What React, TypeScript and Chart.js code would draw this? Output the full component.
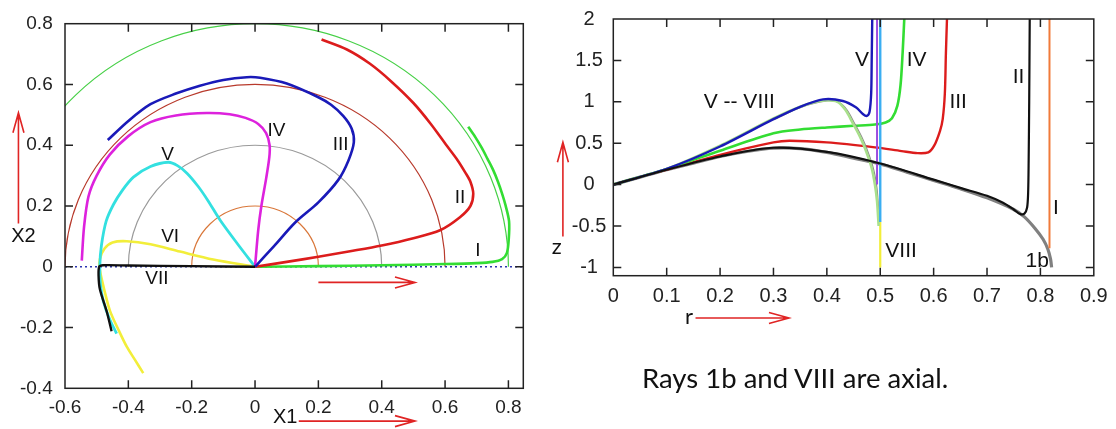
import React, { useEffect, useRef } from "react";
import { Chart, registerables } from "chart.js";

Chart.register(...registerables);

type Pt = [number, number];

// ---------- Left panel: ray paths in the (X1, X2) plane ----------
const X1_TICKS = [-0.6, -0.4, -0.2, 0, 0.2, 0.4, 0.6, 0.8];
const X2_TICKS = [-0.4, -0.2, 0, 0.2, 0.4, 0.6, 0.8];
const X1_MIN = -0.6;
const X1_MAX = 0.847;
const X2_MIN = -0.4;
const X2_MAX = 0.8;

const RAY_I: Pt[] = [
  [0, 0], [0.2, 0.002], [0.4, 0.005], [0.6, 0.009], [0.7, 0.012], [0.75, 0.016],
  [0.78, 0.025], [0.795, 0.045], [0.801, 0.09], [0.802, 0.15], [0.791, 0.202],
  [0.78, 0.241], [0.767, 0.28], [0.752, 0.318], [0.734, 0.355], [0.716, 0.391],
  [0.696, 0.426], [0.673, 0.461],
];
const RAY_II: Pt[] = [
  [0, 0], [0.1, 0.016], [0.2, 0.033], [0.3, 0.051], [0.4, 0.07], [0.5, 0.094],
  [0.584, 0.12], [0.647, 0.163], [0.68, 0.2], [0.689, 0.24], [0.68, 0.28],
  [0.664, 0.31], [0.64, 0.35], [0.605, 0.399], [0.555, 0.47], [0.5, 0.539],
  [0.43, 0.61], [0.363, 0.668], [0.29, 0.715], [0.21, 0.748],
];
const RAY_III: Pt[] = [
  [0, 0], [0.06, 0.068], [0.126, 0.145], [0.2, 0.212], [0.263, 0.286],
  [0.295, 0.35], [0.312, 0.41], [0.305, 0.455], [0.279, 0.496], [0.24, 0.533],
  [0.2, 0.558], [0.1, 0.603], [0.016, 0.622], [-0.026, 0.624], [-0.1, 0.615],
  [-0.174, 0.596], [-0.25, 0.57], [-0.33, 0.535], [-0.4, 0.48], [-0.465, 0.417],
];
const RAY_IV: Pt[] = [
  [0, 0], [0.01, 0.12], [0.02, 0.2], [0.035, 0.29], [0.045, 0.36], [0.046, 0.4],
  [0.035, 0.44], [0.01, 0.47], [-0.03, 0.49], [-0.08, 0.502], [-0.153, 0.506],
  [-0.25, 0.498], [-0.33, 0.476], [-0.4, 0.43], [-0.458, 0.37], [-0.5, 0.3],
  [-0.526, 0.231], [-0.54, 0.13], [-0.547, 0.02],
];
const RAY_V: Pt[] = [
  [0, 0], [-0.055, 0.075], [-0.11, 0.153], [-0.15, 0.22], [-0.18, 0.265],
  [-0.215, 0.308], [-0.245, 0.333], [-0.274, 0.344], [-0.33, 0.33],
  [-0.384, 0.295], [-0.42, 0.25], [-0.447, 0.205], [-0.47, 0.15], [-0.485, 0.07],
  [-0.49, 0.005], [-0.488, -0.06], [-0.479, -0.113], [-0.46, -0.17], [-0.437, -0.22],
];
const RAY_VI: Pt[] = [
  [0, 0], [-0.132, 0.024], [-0.237, 0.05], [-0.33, 0.074], [-0.405, 0.084],
  [-0.45, 0.08], [-0.475, 0.06], [-0.49, 0.025], [-0.49, -0.01], [-0.475, -0.08],
  [-0.458, -0.145], [-0.43, -0.21], [-0.405, -0.263], [-0.38, -0.305], [-0.353, -0.35],
];
const RAY_VII: Pt[] = [
  [0, 0], [-0.2, 0.002], [-0.4, 0.004], [-0.48, 0.005], [-0.492, 0],
  [-0.494, -0.03], [-0.49, -0.073], [-0.468, -0.148], [-0.453, -0.212],
];
const AXIS_LINE: Pt[] = [[-0.6, 0], [0.847, 0]];
const GUIDE_RADII = [0.2, 0.4, 0.6, 0.8];

// ---------- Right panel: z(r) for the same rays ----------
const R_TICKS = [0, 0.1, 0.2, 0.3, 0.4, 0.5, 0.6, 0.7, 0.8, 0.9];
const Z_TICKS = [-1, -0.5, 0, 0.5, 1, 1.5, 2];
const R_MIN = 0;
const R_MAX = 0.9;
const Z_MIN = -1.1;
const Z_MAX = 2;

const Z_1B: Pt[] = [
  [0, 0], [0.05, 0.09], [0.1, 0.18], [0.15, 0.26], [0.2, 0.34], [0.25, 0.4],
  [0.3, 0.44], [0.35, 0.435], [0.4, 0.39], [0.45, 0.32], [0.5, 0.25], [0.55, 0.15],
  [0.6, 0.05], [0.65, -0.05], [0.7, -0.16], [0.75, -0.3], [0.77, -0.39],
  [0.79, -0.53], [0.805, -0.66], [0.814, -0.78], [0.819, -0.9], [0.821, -1.0],
];
const Z_II: Pt[] = [
  [0, 0], [0.1, 0.18], [0.2, 0.34], [0.3, 0.445], [0.4, 0.395], [0.5, 0.255],
  [0.6, 0.06], [0.65, -0.04], [0.7, -0.135], [0.73, -0.22], [0.75, -0.3],
  [0.762, -0.355], [0.77, -0.35], [0.775, -0.28], [0.777, -0.1], [0.778, 0.3],
  [0.779, 1.0], [0.78, 2.0],
];
const Z_III: Pt[] = [
  [0, 0], [0.1, 0.18], [0.2, 0.36], [0.3, 0.51], [0.33, 0.53], [0.4, 0.51],
  [0.49, 0.45], [0.54, 0.405], [0.57, 0.38], [0.59, 0.39], [0.601, 0.47],
  [0.612, 0.65], [0.617, 0.79], [0.621, 1.1], [0.623, 1.59], [0.625, 2.0],
];
const Z_IV: Pt[] = [
  [0, 0], [0.1, 0.19], [0.2, 0.41], [0.3, 0.62], [0.35, 0.665], [0.4, 0.69],
  [0.45, 0.71], [0.49, 0.725], [0.51, 0.75], [0.522, 0.8], [0.532, 0.95],
  [0.538, 1.2], [0.542, 1.6], [0.545, 2.0],
];
const Z_V: Pt[] = [
  [0, 0], [0.1, 0.19], [0.2, 0.46], [0.3, 0.79], [0.35, 0.94], [0.393, 1.03],
  [0.43, 1.01], [0.455, 0.93], [0.468, 0.85], [0.475, 0.83], [0.48, 0.88],
  [0.483, 1.1], [0.484, 1.5], [0.485, 2.0],
];
const Z_VI: Pt[] = [
  [0, 0], [0.1, 0.19], [0.2, 0.47], [0.3, 0.8], [0.35, 0.94], [0.38, 1.0],
  [0.4, 1.02], [0.42, 1.0], [0.435, 0.9], [0.448, 0.75], [0.462, 0.58],
  [0.472, 0.43], [0.484, 0.2], [0.49, 0.0], [0.494, -0.2], [0.497, -0.5],
];
const Z_VII: Pt[] = [
  [0.3, 0.78], [0.35, 0.93], [0.4, 1.01], [0.423, 0.99], [0.438, 0.9],
  [0.451, 0.75], [0.465, 0.58], [0.475, 0.43], [0.487, 0.2], [0.493, 0.0],
  [0.496, -0.2], [0.498, -0.45],
];
const Z_VERT_A: Pt[] = [[0.494, 2.0], [0.494, 0.0]];
const Z_VERT_B: Pt[] = [[0.5, 2.0], [0.5, -0.45]];
const Z_VIII: Pt[] = [[0.5, -0.45], [0.5, -1.0]];
const Z_I: Pt[] = [[0.817, 2.0], [0.817, -0.77]];

// ---------- drawing helpers ----------
const TICK_FONT = "'Liberation Sans', Arial, Helvetica, sans-serif";
const ARROW_RED = "#e02424";

type Label = { text: string; x: number; y: number; size: number; font?: string };
type Arrow = { x1: number; y1: number; x2: number; y2: number };
type Arc = { r: number; color: string };

function line(points: Pt[], color: string, width: number, extra: Record<string, unknown> = {}) {
  return {
    data: points.map(([x, y]) => ({ x, y })),
    showLine: true,
    borderColor: color,
    backgroundColor: color,
    borderWidth: width,
    pointRadius: 0,
    pointHoverRadius: 0,
    tension: 0.3,
    fill: false,
    ...extra,
  };
}

function decorations(
  xTicks: number[],
  yTicks: number[],
  arcs: Arc[],
  labels: Label[],
  arrows: Arrow[]
) {
  return {
    id: "decorations",
    beforeDatasetsDraw(chart: any) {
      const { ctx, chartArea: a, scales } = chart;
      const sx = scales.x;
      const sy = scales.y;
      ctx.save();
      ctx.beginPath();
      ctx.rect(a.left, a.top, a.right - a.left, a.bottom - a.top);
      ctx.clip();
      const cx = sx.getPixelForValue(0);
      const cy = sy.getPixelForValue(0);
      for (const arc of arcs) {
        const rx = sx.getPixelForValue(arc.r) - cx;
        const ry = cy - sy.getPixelForValue(arc.r);
        ctx.beginPath();
        ctx.ellipse(cx, cy, rx, ry, 0, Math.PI, 2 * Math.PI);
        ctx.strokeStyle = arc.color;
        ctx.lineWidth = 1.2;
        ctx.stroke();
      }
      ctx.restore();
    },
    afterDraw(chart: any) {
      const { ctx, chartArea: a, scales } = chart;
      const sx = scales.x;
      const sy = scales.y;
      ctx.save();
      // frame
      ctx.strokeStyle = "#222";
      ctx.lineWidth = 1.5;
      ctx.strokeRect(a.left, a.top, a.right - a.left, a.bottom - a.top);
      // inward ticks on all four sides
      const tl = 8;
      ctx.beginPath();
      for (const v of xTicks) {
        const px = sx.getPixelForValue(v);
        if (px <= a.left + 1 || px >= a.right - 1) continue;
        ctx.moveTo(px, a.bottom);
        ctx.lineTo(px, a.bottom - tl);
        ctx.moveTo(px, a.top);
        ctx.lineTo(px, a.top + tl);
      }
      for (const v of yTicks) {
        const py = sy.getPixelForValue(v);
        if (py <= a.top + 1 || py >= a.bottom - 1) continue;
        ctx.moveTo(a.left, py);
        ctx.lineTo(a.left + tl, py);
        ctx.moveTo(a.right, py);
        ctx.lineTo(a.right - tl, py);
      }
      ctx.stroke();
      // red direction arrows
      ctx.strokeStyle = ARROW_RED;
      ctx.lineWidth = 1.6;
      for (const ar of arrows) {
        const x1 = sx.getPixelForValue(ar.x1);
        const y1 = sy.getPixelForValue(ar.y1);
        const x2 = sx.getPixelForValue(ar.x2);
        const y2 = sy.getPixelForValue(ar.y2);
        const ang = Math.atan2(y2 - y1, x2 - x1);
        const hl = 20;
        const hw = 5.5;
        const bx = x2 - hl * Math.cos(ang);
        const by = y2 - hl * Math.sin(ang);
        const nx = -Math.sin(ang) * hw;
        const ny = Math.cos(ang) * hw;
        ctx.beginPath();
        ctx.moveTo(x1, y1);
        ctx.lineTo(x2, y2);
        ctx.moveTo(bx + nx, by + ny);
        ctx.lineTo(x2, y2);
        ctx.lineTo(bx - nx, by - ny);
        ctx.stroke();
      }
      // text labels
      ctx.fillStyle = "#111";
      ctx.textAlign = "center";
      ctx.textBaseline = "middle";
      for (const lb of labels) {
        ctx.font = `${lb.size}px ${lb.font || TICK_FONT}`;
        ctx.fillText(lb.text, sx.getPixelForValue(lb.x), sy.getPixelForValue(lb.y));
      }
      ctx.restore();
    },
  };
}

function axis(
  min: number,
  max: number,
  ticks: number[],
  size: number,
  padding: number,
  fitKey: "width" | "height",
  fitValue: number,
  extraTicks: Record<string, unknown> = {}
) {
  return {
    type: "linear",
    min,
    max,
    grid: { display: false, drawTicks: false },
    border: { display: false },
    afterBuildTicks: (s: any) => {
      s.ticks = ticks.map((value) => ({ value }));
    },
    afterFit: (s: any) => {
      s[fitKey] = fitValue;
    },
    ticks: {
      color: "#222",
      font: { family: TICK_FONT, size },
      padding,
      autoSkip: false,
      maxRotation: 0,
      callback: (v: number) => String(v),
      ...extraTicks,
    },
  };
}

function LeftPanel() {
  const ref = useRef<HTMLCanvasElement>(null);
  useEffect(() => {
    if (!ref.current) return;
    const labels: Label[] = [
      { text: "IV", x: 0.068, y: 0.448, size: 19 },
      { text: "III", x: 0.27, y: 0.4, size: 19 },
      { text: "II", x: 0.647, y: 0.227, size: 19 },
      { text: "I", x: 0.704, y: 0.052, size: 19 },
      { text: "V", x: -0.276, y: 0.367, size: 19 },
      { text: "VI", x: -0.268, y: 0.1, size: 19 },
      { text: "VII", x: -0.31, y: -0.039, size: 19 },
      { text: "X1", x: 0.095, y: -0.496, size: 20 },
      { text: "X2", x: -0.731, y: 0.1, size: 20 },
    ];
    const arrows: Arrow[] = [
      { x1: 0.2, y1: -0.0515, x2: 0.505, y2: -0.0515 },
      { x1: 0.138, y1: -0.508, x2: 0.505, y2: -0.508 },
      { x1: -0.747, y1: 0.142, x2: -0.747, y2: 0.507 },
    ];
    const arcs: Arc[] = [
      { r: GUIDE_RADII[0], color: "#d9773a" },
      { r: GUIDE_RADII[1], color: "#9a9a9a" },
      { r: GUIDE_RADII[2], color: "#b83a2c" },
      { r: GUIDE_RADII[3], color: "#47d047" },
    ];
    const chart = new Chart(ref.current, {
      type: "scatter",
      data: {
        datasets: [
          line(RAY_VII, "#111111", 2.4),
          line(RAY_III, "#1a1ab8", 2.6),
          line(RAY_II, "#dc1c1c", 2.6),
          line(RAY_I, "#33dd33", 2.6),
          line(RAY_IV, "#dd22dd", 2.6),
          line(RAY_V, "#33e0e0", 2.8),
          line(RAY_VI, "#f2ee3a", 2.6),
          line(AXIS_LINE, "#2a35b0", 1.6, { borderDash: [2, 3], tension: 0 }),
        ] as any,
      },
      options: {
        animation: false,
        responsive: false,
        events: [],
        layout: { padding: { left: 0, top: 15.7, right: 36.7, bottom: 0 } },
        plugins: { legend: { display: false }, tooltip: { enabled: false } },
        scales: {
          x: axis(X1_MIN, X1_MAX, X1_TICKS, 19, 8.3, "height", 40.7),
          y: axis(X2_MIN, X2_MAX, X2_TICKS, 19, 12.3, "width", 65),
        } as any,
      },
      plugins: [decorations(X1_TICKS, X2_TICKS, arcs, labels, arrows)],
    });
    return () => chart.destroy();
  }, []);
  return (
    <canvas
      ref={ref}
      width={560}
      height={429}
      style={{ position: "absolute", left: 0, top: 0, width: 560, height: 429 }}
    />
  );
}

function RightPanel() {
  const ref = useRef<HTMLCanvasElement>(null);
  useEffect(() => {
    if (!ref.current) return;
    const slideFont = "Lato, 'Open Sans', sans-serif";
    const labels: Label[] = [
      { text: "V", x: 0.466, y: 1.5, size: 21 },
      { text: "IV", x: 0.568, y: 1.5, size: 21 },
      { text: "III", x: 0.646, y: 1.0, size: 21 },
      { text: "II", x: 0.759, y: 1.3, size: 21 },
      { text: "I", x: 0.829, y: -0.285, size: 21 },
      { text: "1b", x: 0.794, y: -0.92, size: 21 },
      { text: "VIII", x: 0.539, y: -0.81, size: 21 },
      { text: "V -- VIII", x: 0.236, y: 0.99, size: 21 },
      { text: "r", x: 0.142, y: -1.6, size: 22, font: slideFont },
      { text: "z", x: -0.106, y: -0.75, size: 22, font: slideFont },
    ];
    const arrows: Arrow[] = [
      { x1: 0.154, y1: -1.61, x2: 0.329, y2: -1.61 },
      { x1: -0.0944, y1: -0.627, x2: -0.0944, y2: 0.512 },
    ];
    const chart = new Chart(ref.current, {
      type: "scatter",
      data: {
        datasets: [
          line(Z_I, "#f07a3a", 2, { tension: 0 }),
          line(Z_II, "#111111", 2.2),
          line(Z_VERT_A, "#9b4be0", 2, { tension: 0 }),
          line(Z_VERT_B, "#3aaef2", 2.4, { tension: 0 }),
          line(Z_V, "#1a1ab8", 2.4),
          line(Z_VI, "#a9e08c", 2.6),
          line(Z_VII, "#8a8a8a", 1.2),
          line(Z_IV, "#33dd33", 2.6),
          line(Z_III, "#dc1c1c", 2.4),
          line(Z_VIII, "#f2ee3a", 2.2, { tension: 0 }),
          line(Z_1B, "#808080", 3.2),
        ] as any,
      },
      options: {
        animation: false,
        responsive: false,
        events: [],
        layout: { padding: { left: 0, top: 15.7, right: 13.7, bottom: 0 } },
        plugins: { legend: { display: false }, tooltip: { enabled: false } },
        scales: {
          x: axis(R_MIN, R_MAX, R_TICKS, 20, 8.3, "height", 153.3),
          y: axis(Z_MIN, Z_MAX, Z_TICKS, 20, 7, "width", 73.3, { crossAlign: "center" }),
        } as any,
      },
      plugins: [decorations(R_TICKS, Z_TICKS, [], labels, arrows)],
    });
    return () => chart.destroy();
  }, []);
  return (
    <canvas
      ref={ref}
      width={576}
      height={429}
      style={{ position: "absolute", left: 540, top: 0, width: 576, height: 429 }}
    />
  );
}

export default function App() {
  return (
    <div
      style={{
        position: "absolute",
        left: 0,
        top: 0,
        width: 1116,
        height: 429,
        background: "#ffffff",
        overflow: "hidden",
      }}
    >
      <LeftPanel />
      <RightPanel />
      <div
        style={{
          position: "absolute",
          left: 642,
          top: 364,
          fontFamily: "Lato, 'Open Sans', sans-serif",
          fontSize: 27.5,
          lineHeight: "28px",
          color: "#111",
          whiteSpace: "nowrap",
        }}
      >
        Rays 1b and VIII are axial.
      </div>
    </div>
  );
}
